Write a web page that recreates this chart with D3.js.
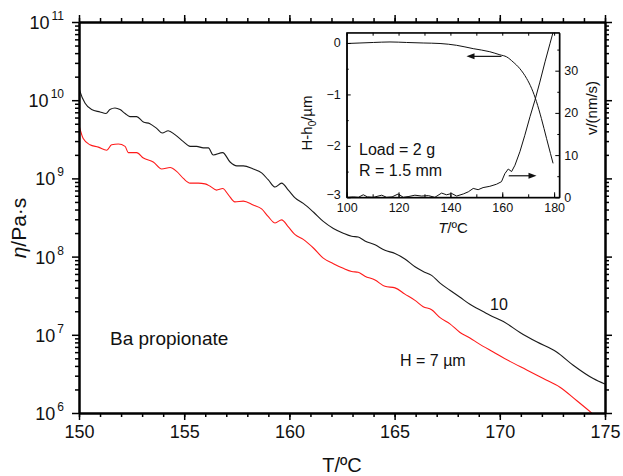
<!DOCTYPE html>
<html>
<head>
<meta charset="utf-8">
<script src="https://cdn.jsdelivr.net/npm/d3@7"></script>
<style>
    body { margin: 0; background: #fff; }
    svg { font-family: Arial, "Liberation Sans", sans-serif; }
</style>
</head>
<body>
<svg id="chart" width="623" height="476"></svg>
<script>
// main plot: viscosity vs temperature, two film thicknesses (log10 of eta in Pa.s)
const tempH10 = [150.0, 150.05, 150.29, 150.6, 151.0, 151.28, 151.47, 151.71, 151.95, 152.19, 152.42, 152.74,
    153.06, 153.37, 153.69, 153.96, 154.24, 154.56, 154.96, 155.28, 155.59, 155.91, 156.15, 156.38, 156.83,
    157.18, 157.5, 157.81, 158.28, 158.68, 159.0, 159.32, 159.63, 159.95, 160.27, 160.66, 161.14, 161.61,
    162.09, 162.56, 162.96, 163.27, 163.59, 164.07, 164.54, 165.02, 165.49, 165.97, 166.36, 166.76, 167.16,
    167.63, 168.11, 168.58, 168.98, 169.53, 170.17, 170.96, 171.75, 172.7, 173.49, 174.44, 175.0];
const logEtaH10 = [10.16, 10.11, 9.96, 9.88, 9.85, 9.83, 9.88, 9.9, 9.88, 9.83, 9.79, 9.79,
    9.72, 9.7, 9.64, 9.58, 9.61, 9.56, 9.47, 9.41, 9.41, 9.39, 9.39, 9.3, 9.33,
    9.21, 9.16, 9.16, 9.12, 9.07, 8.98, 8.89, 8.94, 8.85, 8.75, 8.68, 8.57, 8.45,
    8.36, 8.3, 8.26, 8.25, 8.2, 8.15, 8.08, 8.04, 7.97, 7.87, 7.81, 7.76, 7.66,
    7.57, 7.48, 7.39, 7.33, 7.25, 7.17, 7.03, 6.91, 6.78, 6.61, 6.44, 6.37];

const tempH7 = [150.0, 150.02, 150.2, 150.52, 150.92, 151.32, 151.55, 151.87, 152.19, 152.34, 152.74, 153.06,
    153.53, 153.93, 154.33, 154.64, 154.96, 155.28, 155.67, 155.99, 156.23, 156.54, 156.83, 157.1, 157.41,
    157.81, 158.28, 158.68, 159.0, 159.32, 159.63, 159.95, 160.27, 160.66, 161.14, 161.61, 162.09, 162.56,
    162.96, 163.27, 163.59, 164.07, 164.54, 165.02, 165.49, 165.97, 166.36, 166.76, 167.16, 167.63, 168.11,
    168.58, 168.98, 169.69, 170.48, 171.28, 172.07, 172.86, 173.65, 174.37];
const logEtaH7 = [9.68, 9.66, 9.51, 9.43, 9.4, 9.36, 9.43, 9.44, 9.41, 9.33, 9.33, 9.26,
    9.21, 9.12, 9.14, 9.09, 9.0, 8.94, 8.94, 8.93, 8.9, 8.85, 8.87, 8.79, 8.7,
    8.71, 8.66, 8.61, 8.51, 8.43, 8.47, 8.38, 8.28, 8.22, 8.11, 7.98, 7.91, 7.85,
    7.81, 7.8, 7.75, 7.7, 7.62, 7.6, 7.52, 7.44, 7.36, 7.32, 7.22, 7.14, 7.03,
    6.96, 6.89, 6.78, 6.66, 6.55, 6.44, 6.33, 6.16, 6.0];

const xTicks = [150, 155, 160, 165, 170, 175];
const yDecades = [6, 7, 8, 9, 10, 11];

// inset: indentation depth and indentation speed vs temperature
const insetTempH = [100, 105.1, 110.3, 116.7, 123.1, 129.5, 136.0, 142.4, 148.8, 155.2, 159.1, 161.7,
    164.2, 166.8, 169.4, 171.3, 173.2, 175.1, 177.1, 178.6, 179.6];
const insetDepth = [-0.01, 0, 0.01, 0.02, 0.01, 0, -0.01, -0.045, -0.11, -0.17, -0.23, -0.27,
    -0.37, -0.5, -0.69, -0.88, -1.14, -1.47, -1.86, -2.15, -2.34];

const insetTempV = [100, 102.6, 104.5, 106.4, 108, 110.3, 113.5, 115.4, 117.5, 119.9, 121.8, 124, 126.3,
    128.9, 131.5, 134.0, 136.6, 138.5, 140.5, 142.4, 145.0, 146.9, 148.8, 150.7, 152.6, 155.2, 157.8,
    159.7, 161.0, 162.3, 163.6, 164.9, 166.8, 168.7, 170.7, 172.6, 174.5, 176.5, 178.4, 179.6];
const insetSpeed = [0, 0.1, 0, 0.6, 0.1, 0, 0.5, 0, 0.1, 0.8, 0, 0.2, 0.5,
    0.3, 0.4, 0, 1.0, 0.6, 0.9, 0.3, 0.8, 1.3, 2.1, 1.8, 2.3, 2.6, 3.1,
    3.7, 5.6, 6.7, 6.1, 7.6, 10.8, 14.7, 19.1, 23.0, 27.3, 32.1, 36.4, 39.1];

const insetXTicks = [100, 120, 140, 160, 180];
const insetDepthTicks = [0, -1, -2, -3];
const insetSpeedTicks = [0, 10, 20, 30];

let canvas = d3.select("#chart");
let margin = { top: 22, right: 18, bottom: 63, left: 79 };
let width = +canvas.attr("width");
let height = +canvas.attr("height");

let xScale = d3.scaleLinear().domain([150, 175]).range([margin.left, width - margin.right]);
let yScale = d3.scaleLog().domain([1e6, 1e11]).range([height - margin.bottom, margin.top]);

let seriesH10 = tempH10.map((t, i) => ({ t: t, eta: Math.pow(10, logEtaH10[i]) }));
let seriesH7 = tempH7.map((t, i) => ({ t: t, eta: Math.pow(10, logEtaH7[i]) }));

canvas.append("clipPath").attr("id", "plot-clip")
    .append("rect")
    .attr("x", margin.left).attr("y", margin.top)
    .attr("width", width - margin.left - margin.right)
    .attr("height", height - margin.top - margin.bottom);

let line = d3.line().x(d => xScale(d.t)).y(d => yScale(d.eta)).curve(d3.curveMonotoneX);

let gLines = canvas.append("g").attr("clip-path", "url(#plot-clip)");
gLines.append("path").datum(seriesH10)
    .attr("fill", "none").attr("stroke", "#1a1a1a").attr("stroke-width", 1.1)
    .attr("d", line);
gLines.append("path").datum(seriesH7)
    .attr("fill", "none").attr("stroke", "#ff1a1a").attr("stroke-width", 1.1)
    .attr("d", line);

// minor tick values
let xMinor = d3.range(150, 176);
let yMinor = [];
for (let e = 6; e < 11; e++) {
    for (let m = 2; m <= 9; m++) yMinor.push(m * Math.pow(10, e));
}
let yMajor = yDecades.map(e => Math.pow(10, e));

function styleAxis(g, w) {
    g.selectAll("path.domain").attr("stroke", "#000").attr("stroke-width", w);
    g.selectAll(".tick line").attr("stroke", "#000").attr("stroke-width", w * 0.75);
    return g;
}

let bottomY = height - margin.bottom;
let rightX = width - margin.right;

// bottom
styleAxis(canvas.append("g").attr("transform", `translate(0,${bottomY})`)
    .call(d3.axisBottom(xScale).tickValues(xMinor).tickSize(4).tickSizeOuter(0).tickFormat("")), 2);
let xAxisG = styleAxis(canvas.append("g").attr("transform", `translate(0,${bottomY})`)
    .call(d3.axisBottom(xScale).tickValues(xTicks).tickSize(7).tickSizeOuter(0).tickPadding(5)), 2);
xAxisG.selectAll("text").attr("font-size", 18).attr("font-family", "Arial, Liberation Sans").attr("fill", "#111");
// top
styleAxis(canvas.append("g").attr("transform", `translate(0,${margin.top})`)
    .call(d3.axisTop(xScale).tickValues(xMinor).tickSize(4).tickSizeOuter(0).tickFormat("")), 2);
styleAxis(canvas.append("g").attr("transform", `translate(0,${margin.top})`)
    .call(d3.axisTop(xScale).tickValues(xTicks).tickSize(7).tickSizeOuter(0).tickFormat("")), 2);
// left
styleAxis(canvas.append("g").attr("transform", `translate(${margin.left},0)`)
    .call(d3.axisLeft(yScale).tickValues(yMinor).tickSize(4).tickSizeOuter(0).tickFormat("")), 2);
styleAxis(canvas.append("g").attr("transform", `translate(${margin.left},0)`)
    .call(d3.axisLeft(yScale).tickValues(yMajor).tickSize(7).tickSizeOuter(0).tickFormat("")), 2);
// right
styleAxis(canvas.append("g").attr("transform", `translate(${rightX},0)`)
    .call(d3.axisRight(yScale).tickValues(yMinor).tickSize(4).tickSizeOuter(0).tickFormat("")), 2);
styleAxis(canvas.append("g").attr("transform", `translate(${rightX},0)`)
    .call(d3.axisRight(yScale).tickValues(yMajor).tickSize(7).tickSizeOuter(0).tickFormat("")), 2);

// power-of-ten labels
let yLabels = canvas.append("g").attr("fill", "#111");
yDecades.forEach(e => {
    let t = yLabels.append("text")
        .attr("x", margin.left - 15)
        .attr("y", yScale(Math.pow(10, e)) + 7)
        .attr("text-anchor", "end")
        .attr("font-size", 18);
    t.append("tspan").text("10");
    t.append("tspan").attr("font-size", 12).attr("dx", 2).attr("dy", -9).text(e);
});

// axis titles
canvas.append("text")
    .attr("x", (margin.left + rightX) / 2).attr("y", 472)
    .attr("text-anchor", "middle").attr("font-size", 20).attr("fill", "#111")
    .text("T/ºC");

let yTitle = canvas.append("text")
    .attr("transform", `translate(26, 228) rotate(-90)`)
    .attr("text-anchor", "middle").attr("font-size", 21).attr("fill", "#111");
yTitle.append("tspan").attr("font-style", "italic").text("η");
yTitle.append("tspan").text("/Pa·s");

// annotations
canvas.append("text").attr("x", 110).attr("y", 345).attr("font-size", 19).attr("fill", "#111").text("Ba propionate");
canvas.append("text").attr("x", 490).attr("y", 310).attr("font-size", 16).attr("fill", "#111").text("10");
canvas.append("text").attr("x", 400).attr("y", 366).attr("font-size", 16).attr("fill", "#111").text("H = 7 µm");

// ---------- inset ----------
let inset = { left: 346.7, right: 559.3, top: 32.7, bottom: 197.3 };
let ixScale = d3.scaleLinear().domain([100, 182]).range([inset.left, inset.right]);
let iyDepth = d3.scaleLinear().domain([-3, 0.2]).range([inset.bottom, inset.top]);
let iySpeed = d3.scaleLinear().domain([0, 39]).range([inset.bottom, inset.top]);

canvas.append("rect")
    .attr("x", inset.left).attr("y", inset.top)
    .attr("width", inset.right - inset.left).attr("height", inset.bottom - inset.top)
    .attr("fill", "#fff").attr("stroke", "#000").attr("stroke-width", 1);

canvas.append("clipPath").attr("id", "inset-clip")
    .append("rect")
    .attr("x", inset.left).attr("y", inset.top)
    .attr("width", inset.right - inset.left).attr("height", inset.bottom - inset.top);

let gInset = canvas.append("g").attr("clip-path", "url(#inset-clip)");
gInset.append("path")
    .datum(insetTempH.map((t, i) => ({ t: t, v: insetDepth[i] })))
    .attr("fill", "none").attr("stroke", "#111").attr("stroke-width", 1)
    .attr("d", d3.line().x(d => ixScale(d.t)).y(d => iyDepth(d.v)).curve(d3.curveMonotoneX));
gInset.append("path")
    .datum(insetTempV.map((t, i) => ({ t: t, v: insetSpeed[i] })))
    .attr("fill", "none").attr("stroke", "#111").attr("stroke-width", 1)
    .attr("d", d3.line().x(d => ixScale(d.t)).y(d => iySpeed(d.v)).curve(d3.curveLinear));

function styleInset(g) {
    g.selectAll("path.domain").attr("stroke", "#000").attr("stroke-width", 1);
    g.selectAll(".tick line").attr("stroke", "#000").attr("stroke-width", 1);
    g.selectAll("text").attr("font-size", 12.5).attr("fill", "#111").attr("font-family", "Arial, Liberation Sans");
    return g;
}

let intFmt = d3.format("d");

styleInset(canvas.append("g").attr("transform", `translate(0,${inset.bottom})`)
    .call(d3.axisBottom(ixScale).tickValues(d3.range(100, 182, 10)).tickSize(-3).tickSizeOuter(0).tickFormat("")));
styleInset(canvas.append("g").attr("transform", `translate(0,${inset.bottom})`)
    .call(d3.axisBottom(ixScale).tickValues(insetXTicks).tickSize(-5).tickSizeOuter(0).tickPadding(6)));
styleInset(canvas.append("g").attr("transform", `translate(0,${inset.top})`)
    .call(d3.axisTop(ixScale).tickValues(d3.range(100, 182, 10)).tickSize(-3).tickSizeOuter(0).tickFormat("")));
let depthAxis = styleInset(canvas.append("g").attr("transform", `translate(${inset.left},0)`)
    .call(d3.axisLeft(iyDepth).tickValues(insetDepthTicks).tickSize(-4).tickSizeOuter(0).tickPadding(6).tickFormat(intFmt)));
depthAxis.selectAll(".tick text").filter(d => d === -3).attr("dy", "0.1em");
styleInset(canvas.append("g").attr("transform", `translate(${inset.left},0)`)
    .call(d3.axisLeft(iyDepth).tickValues([-0.5, -1.5, -2.5]).tickSize(-2).tickSizeOuter(0).tickFormat("")));
styleInset(canvas.append("g").attr("transform", `translate(${inset.right},0)`)
    .call(d3.axisRight(iySpeed).tickValues(insetSpeedTicks).tickSize(-4).tickSizeOuter(0).tickPadding(5).tickFormat(intFmt)));
styleInset(canvas.append("g").attr("transform", `translate(${inset.right},0)`)
    .call(d3.axisRight(iySpeed).tickValues([5, 15, 25, 35]).tickSize(-2).tickSizeOuter(0).tickFormat("")));

// inset titles
let ixTitle = canvas.append("text")
    .attr("x", (inset.left + inset.right) / 2).attr("y", 233)
    .attr("text-anchor", "middle").attr("font-size", 15).attr("fill", "#111");
ixTitle.append("tspan").attr("font-style", "italic").text("T");
ixTitle.append("tspan").text("/ºC");

let iyTitle = canvas.append("text")
    .attr("transform", `translate(312, 123) rotate(-90)`)
    .attr("text-anchor", "middle").attr("font-size", 15).attr("fill", "#111");
iyTitle.append("tspan").text("H-h");
iyTitle.append("tspan").attr("font-size", 10).attr("dy", 4).text("0");
iyTitle.append("tspan").attr("dy", -4).text("/µm");

canvas.append("text")
    .attr("transform", `translate(597, 108) rotate(-90)`)
    .attr("text-anchor", "middle").attr("font-size", 15).attr("fill", "#111")
    .text("v/(nm/s)");

canvas.append("text").attr("x", 359).attr("y", 155).attr("font-size", 16).attr("fill", "#111").text("Load = 2 g");
canvas.append("text").attr("x", 359).attr("y", 176).attr("font-size", 16).attr("fill", "#111").text("R = 1.5 mm");

// arrows pointing to each curve's axis
function arrow(x1, x2, y) {
    let dir = x2 < x1 ? -1 : 1;
    canvas.append("line").attr("x1", x1).attr("x2", x2 - dir * 6).attr("y1", y).attr("y2", y)
        .attr("stroke", "#111").attr("stroke-width", 1.2);
    canvas.append("path")
        .attr("d", `M${x2},${y} L${x2 - dir * 8},${y - 3} L${x2 - dir * 8},${y + 3} Z`)
        .attr("fill", "#111");
}
arrow(ixScale(159.7), ixScale(146.2), iyDepth(-0.26));
arrow(ixScale(162.5), ixScale(173.2), iySpeed(5.1));
</script>
</body>
</html>
